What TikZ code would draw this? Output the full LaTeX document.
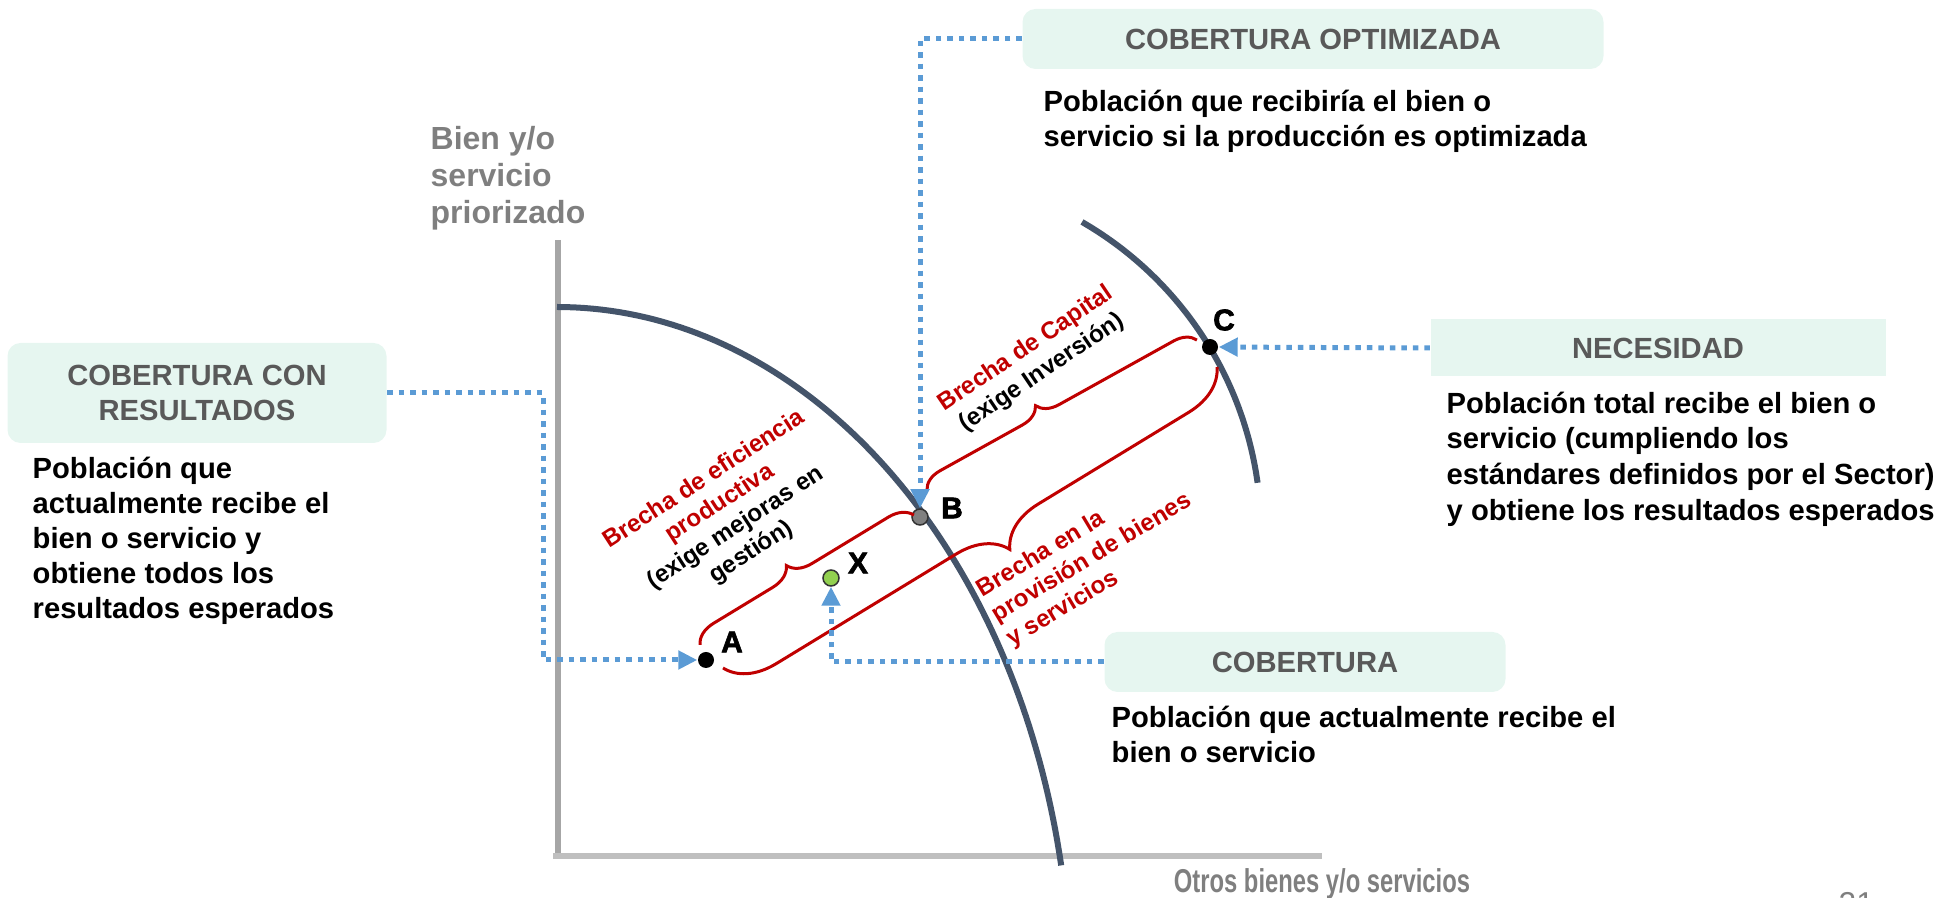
\documentclass[tikz,border=0pt]{standalone}
\usepackage{graphicx}
\usepackage{fontspec}
\setmainfont{Liberation Sans}
\newfontfamily\heavyfont{Liberation Sans}[BoldFeatures={FakeBold=2.2}]
\usetikzlibrary{arrows.meta, decorations.pathreplacing, calc}

\definecolor{ppfline}{HTML}{44546A}
\definecolor{gapred}{HTML}{C00000}
\definecolor{linkblue}{HTML}{5B9BD5}
\definecolor{boxmint}{HTML}{E6F6F0}
\definecolor{hdrgray}{HTML}{595959}
\definecolor{axisgray}{HTML}{A6A6A6}
\definecolor{axislight}{HTML}{BFBFBF}
\definecolor{lblgray}{HTML}{7F7F7F}
\definecolor{dotgreen}{HTML}{92D050}

\begin{document}
\begin{tikzpicture}[x=0.1mm, y=-0.1mm,
  font=\fontsize{8.3}{10}\selectfont\bfseries,
  hbox/.style={fill=boxmint, text=hdrgray, align=center, inner sep=0pt},
  desc/.style={anchor=north west, align=left, inner sep=0pt},
  link/.style={linkblue, line width=0.5mm, dash pattern=on 0.55mm off 0.6mm,
    -{Triangle[length=1.9mm, width=1.8mm]}},
  gap/.style={gapred, line width=0.3mm, decorate},
  gaptext/.style={font=\fontsize{6.9}{8.2}\selectfont\bfseries, align=center, inner sep=0pt},
  pt/.style={circle, inner sep=0pt, minimum size=1.6mm},
  ptlabel/.style={font=\fontsize{8.5}{8.5}\selectfont\heavyfont\bfseries, inner sep=0pt},
]
\useasboundingbox (0,0) rectangle (1952,898);

% axes
\draw[axisgray, line width=0.6mm] (558,240) -- (558,856);
\draw[axislight, line width=0.6mm] (553,856) -- (1322,856);
\node[desc, text=lblgray, font=\fontsize{9.1}{10.5}\selectfont\bfseries] (ylab) at (430,126)
  {Bien y/o\\servicio\\priorizado};
\node[text=lblgray, inner sep=0pt, font=\fontsize{9.4}{10}\selectfont\bfseries]
  (xlab) at (1322,884) {\scalebox{0.72}[1]{Otros bienes y/o servicios}};

% production frontiers
\draw[ppfline, line width=0.6mm] plot[domain=90:11.2, samples=80]
  ({557+514*cos(\x)}, {1000-693*sin(\x)});
\draw[ppfline, line width=0.6mm] plot[domain=60:7.9, samples=60]
  ({903+358*cos(\x)}, {532-358*sin(\x)});

% points
\node[pt, fill=black] (A) at (706,660) {};
\node[pt, fill=dotgreen, draw=black!80, line width=0.15mm] (X) at (831,578) {};
\node[pt, fill=gray, draw=black!80, line width=0.15mm] (B) at (920,517) {};
\node[pt, fill=black] (C) at (1210,347) {};
\node[ptlabel] (Alab) at (732,642) {A};
\node[ptlabel] (Blab) at (952,508) {B};
\node[ptlabel] (Xlab) at (858,563) {X};
\node[ptlabel] (Clab) at (1224,320) {C};

% gaps
\draw[gap, decoration={brace, amplitude=2.3mm, aspect=0.46}]
  ($(A)+(-6,-15)$) -- ($(B)+(-6,-2)$);
\draw[gap, decoration={brace, amplitude=2.1mm, aspect=0.44}]
  ($(B)+(7,-27)$) -- ($(C)+(-13,-7)$);
\draw[gap, decoration={brace, amplitude=4.8mm, aspect=0.47}]
  ($(C)+(7,20)$) -- ($(A)+(17,8)$);

\node[gaptext, rotate=33] (effgap) at (728,516)
  {{\color{gapred}Brecha de eficiencia}\\{\color{gapred}productiva}\\(exige mejoras en\\gestión)};
\node[gaptext, rotate=34] (capgap) at (1034,361)
  {{\color{gapred}Brecha de Capital}\\(exige Inversión)};
\node[gaptext, rotate=31, align=left, text=gapred] (provgap) at (1092,558)
  {Brecha en la\\provisión de bienes\\y servicios};

% boxes
\node[hbox, rounded corners=1.3mm, minimum width=58.1mm, minimum height=6mm]
  (optbox) at (1313,39) {COBERTURA OPTIMIZADA};
\node[desc] (optdesc) at (1043,89)
  {Población que recibiría el bien o\\servicio si la producción es optimizada};

\node[hbox, rounded corners=1.3mm, minimum width=37.9mm, minimum height=10mm]
  (crbox) at (197,393) {COBERTURA CON\\RESULTADOS};
\node[desc] (crdesc) at (32,456)
  {Población que\\actualmente recibe el\\bien o servicio y\\obtiene todos los\\resultados esperados};

\node[hbox, minimum width=45.5mm, minimum height=5.7mm]
  (needbox) at (1658,348) {NECESIDAD};
\node[desc, font=\fontsize{8.3}{10.2}\selectfont\bfseries] (needdesc) at (1446,391)
  {Población total recibe el bien o\\servicio (cumpliendo los\\estándares definidos por el Sector)\\y obtiene los resultados esperados};

\node[hbox, rounded corners=1.3mm, minimum width=40.1mm, minimum height=6mm]
  (cobbox) at (1305,662) {COBERTURA};
\node[desc] (cobdesc) at (1111,705)
  {Población que actualmente recibe el\\bien o servicio};

\node[anchor=north west, text=lblgray, inner sep=0pt, font=\fontsize{9}{9}\selectfont]
  (pagenum) at (1838,892) {21};

% links
\coordinate (aturn) at (543,0);
\draw[link] (crbox.east) -- (crbox.east -| aturn) |- (A);
\draw[link] (optbox.west) -| (B);
\draw[link] (needbox.west) -- (C);
\draw[link] (cobbox.west) -| (X);

\end{tikzpicture}
\end{document}
